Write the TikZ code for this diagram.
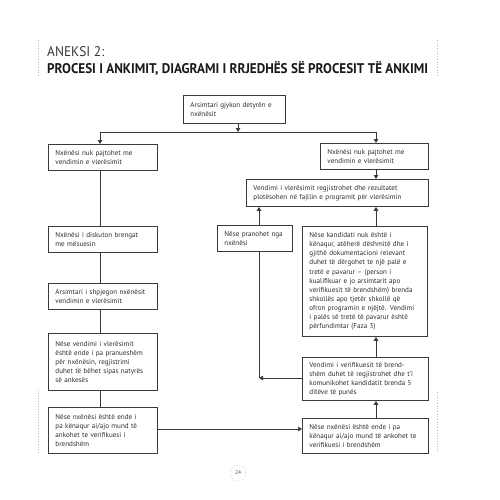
\documentclass[tikz,border=0pt]{standalone}
\usepackage{fontspec}
\usepackage{graphicx}
\setmainfont{PT Sans}
\usetikzlibrary{arrows.meta}
\definecolor{ln}{HTML}{3A3A3A}
\definecolor{tx}{HTML}{2E2E2E}
\newcommand{\ml}[1]{\mbox{#1}}
\begin{document}
\begin{tikzpicture}[x=1pt,y=-1pt,
 box/.style={draw=ln, line width=0.9pt, fill=white, inner xsep=7pt, inner ysep=1pt, align=left, text=tx,
   font=\fontsize{7.1}{9.1}\selectfont, anchor=north west},
 conn/.style={draw=ln,line width=1pt},
 arr/.style={conn,-{Triangle[length=4pt,width=4.5pt]}},
 dots/.style={draw=gray!55,line width=0.7pt,dotted}]
\useasboundingbox (0,0) rectangle (500,500);

% title
\node[anchor=base west, inner sep=0pt, text=black!78, font=\fontsize{14}{16}\selectfont] (t1) at (47,57) {\resizebox{57pt}{\height}{ANEKSI 2:}};
\node[anchor=base west, inner sep=0pt, text=black!90, font=\fontsize{14}{16}\selectfont\bfseries] (t2) at (47,74) {\resizebox{381pt}{\height}{PROCESI I ANKIMIT, DIAGRAMI I RRJEDHËS SË PROCESIT TË ANKIMI}};
\draw[dots] (38,40) -- (38,77);
\draw[dots] (437,40) -- (437,77);
\draw[dots] (38,390) -- (38,454);
\draw[dots] (437,392) -- (437,454);

% boxes
\node[box, text width=88pt, minimum height=28pt] (top) at (183,95) {\ml{Arsimtari gjykon detyrën e}\\\ml{nxënësit}};
\node[box, text width=95pt, minimum height=26pt] (l1) at (48,144) {\ml{Nxënësi nuk pajtohet me}\\\ml{vendimin e vlerësimit}};
\node[box, text width=94pt, minimum height=26pt] (r1) at (320,143) {\ml{Nxënësi nuk pajtohet me}\\\ml{vendimin e vlerësimit}};
\node[box, text width=168pt, minimum height=27pt] (vd) at (246,179) {\ml{Vendimi i vlerësimit regjistrohet dhe rezultatet}\\\ml{plotësohen në fajllin e programit për vlerësimin}};
\node[box, text width=61pt, minimum height=26pt] (np) at (217,225) {\ml{Nëse pranohet nga}\\\ml{nxënësi}};
\node[box, text width=95pt, minimum height=26pt] (l2) at (48,226) {\ml{Nxënësi i diskuton brengat}\\\ml{me mësuesin}};
\node[box, text width=95pt, minimum height=26pt] (l3) at (48,283) {\ml{Arsimtari i shpjegon nxënësit}\\\ml{vendimin e vlerësimit}};
\node[box, text width=111pt, minimum height=110pt] (big) at (302,226) {\ml{Nëse kandidati nuk është i}\\\ml{kënaqur, atëherë dëshmitë dhe i}\\\ml{gjithë dokumentacioni relevant}\\\ml{duhet të dërgohet te një palë e}\\\ml{tretë e pavarur – (person i}\\\ml{kualifikuar e jo arsimtarit apo}\\\ml{verifikuesit të brendshëm) brenda}\\\ml{shkollës apo tjetër shkollë që}\\\ml{ofron programin e njëjtë. Vendimi}\\\ml{i palës së tretë të pavarur është}\\\ml{përfundimtar (Faza 3)}};
\node[box, text width=95pt, minimum height=57pt] (l4) at (48,333) {\ml{Nëse vendimi i vlerësimit}\\\ml{është ende i pa pranueshëm}\\\ml{për nxënësin, regjistrimi}\\\ml{duhet të bëhet sipas natyrës}\\\ml{së ankesës}};
\node[box, text width=112pt, minimum height=43pt] (vf) at (302,357) {\ml{Vendimi i verifikuesit të brend-}\\\ml{shëm duhet të regjistrohet dhe t’i}\\\ml{komunikohet kandidatit brenda 5}\\\ml{ditëve të punës}};
\node[box, text width=95pt, minimum height=46pt] (l5) at (48,407) {\ml{Nëse nxënësi është ende i}\\\ml{pa kënaqur ai/ajo mund të}\\\ml{ankohet te verifikuesi i}\\\ml{brendshëm}};
\node[box, text width=112pt, minimum height=35pt] (rb) at (302,418) {\ml{Nëse nxënësi është ende i pa}\\\ml{kënaqur ai/ajo mund të ankohet te}\\\ml{verifikuesi i brendshëm}};

% helper coordinates
\coordinate (j) at (238,132);
\coordinate (cl) at (100,0);
\coordinate (cr) at (376,0);
\coordinate (cp) at (259,0);
\coordinate (jv) at (259,378);

% connectors
\draw[arr] (top.south -| j) -- (j);
\draw[conn] (j -| cl) -- (j -| cr);
\draw[arr] (j -| cl) -- (l1.north -| cl);
\draw[arr] (j -| cr) -- (r1.north -| cr);
\draw[arr] (r1.south -| cr) -- (vd.north -| cr);
\draw[arr] (big.north -| cr) -- (vd.south -| cr);
\draw[arr] (np.north -| cp) -- (vd.south -| cp);
\draw[conn] (np.south -| cp) -- (jv);
\draw[arr] (vf.west |- jv) -- (jv);
\draw[arr] (vf.north -| cr) -- (big.south -| cr);
\draw[arr] (rb.north -| cr) -- (vf.south -| cr);
\draw[conn] (l1.south -| cl) -- (l2.north -| cl);
\draw[conn] (l2.south -| cl) -- (l3.north -| cl);
\draw[conn] (l3.south -| cl) -- (l4.north -| cl);
\draw[conn] (l4.south -| cl) -- (l5.north -| cl);
\coordinate (ya) at (0,429);
\draw[arr] (l5.east |- ya) -- (rb.west |- ya);

% page number
\node[draw=gray!60, dotted, line width=0.6pt, circle, minimum size=16pt, inner sep=0pt, text=black!70, font=\fontsize{5.5}{6}\selectfont] (pg) at (238,473) {24};
\end{tikzpicture}
\end{document}
